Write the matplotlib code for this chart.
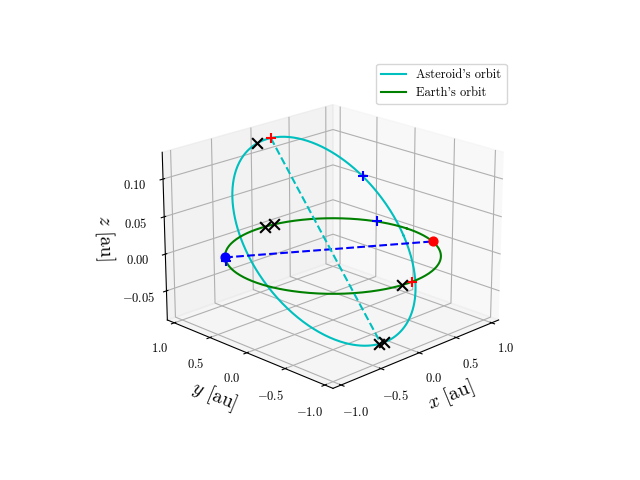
import numpy as np
import matplotlib
matplotlib.use("Agg")
import matplotlib.pyplot as plt

plt.rcParams["font.family"] = "serif"
plt.rcParams["font.serif"] = ["cmr10"]
plt.rcParams["mathtext.fontset"] = "cm"
plt.rcParams["axes.formatter.use_mathtext"] = True

# asteroid orbital elements (estimated)
a_ast, e_ast, inc_deg, node_deg, peri_deg = 0.86, 0.15, 7.0, -8.0, 270.0
# asteroid markers, argument of latitude (deg)
ast_black_x_u = [100, 268, 273]
ast_blue_plus_u = [35]
ast_red_plus_u = [90]
# Earth markers, heliocentric longitude (deg)
earth_black_x = [80, 86, 263]
earth_blue_plus = [145, 20]
earth_red_plus = [270]
earth_pos = 335      # red dot
node_pos = 140       # blue dot

def orbit_xyz(u_deg):
    u = np.radians(u_deg)
    w, O, i = np.radians(peri_deg), np.radians(node_deg), np.radians(inc_deg)
    r = a_ast * (1 - e_ast**2) / (1 + e_ast * np.cos(u - w))
    x = r * (np.cos(O) * np.cos(u) - np.sin(O) * np.sin(u) * np.cos(i))
    y = r * (np.sin(O) * np.cos(u) + np.cos(O) * np.sin(u) * np.cos(i))
    z = r * np.sin(u) * np.sin(i)
    return x, y, z

def earth_xyz(lon_deg):
    t = np.radians(lon_deg)
    return np.cos(t), np.sin(t), np.zeros_like(t)

fig = plt.figure(figsize=(6.4, 4.8), dpi=100)
ax = fig.add_subplot(projection="3d")
ax.view_init(elev=20, azim=-135)

u = np.linspace(0, 360, 400)
ax.plot(*orbit_xyz(u), color="c", label="Asteroid's orbit")
ax.plot(*earth_xyz(np.linspace(0, 360, 400)), color="g", label="Earth's orbit")

# node to Earth
nx, ny, nz = earth_xyz(np.array([node_pos, earth_pos]))
ax.plot(nx, ny, nz, "b--")
ax.scatter(nx[0], ny[0], nz[0], color="b", s=40, depthshade=False)
ax.scatter(nx[1], ny[1], nz[1], color="r", s=40, depthshade=False)
# max/min z line
ex, ey, ez = orbit_xyz(np.array([90, 270]))
ax.plot(ex, ey, ez, "c--")

for xyz, c, m in [(orbit_xyz(np.array(ast_black_x_u)), "k", "x"),
                  (orbit_xyz(np.array(ast_blue_plus_u)), "b", "+"),
                  (orbit_xyz(np.array(ast_red_plus_u)), "r", "+"),
                  (earth_xyz(np.array(earth_black_x)), "k", "x"),
                  (earth_xyz(np.array(earth_blue_plus)), "b", "+"),
                  (earth_xyz(np.array(earth_red_plus)), "r", "+")]:
    ax.scatter(*xyz, color=c, marker=m, s=60, depthshade=False)

ax.set_xlim(-1.1, 1.1)
ax.set_ylim(-1.1, 1.1)
ax.set_zlim(-0.09, 0.135)
ax.set_xticks([-1.0, -0.5, 0.0, 0.5, 1.0])
ax.set_yticks([-1.0, -0.5, 0.0, 0.5, 1.0])
ax.set_zticks([-0.05, 0.0, 0.05, 0.10])
ax.tick_params(labelsize=9)
ax.set_xlabel("$x$ [au]", fontsize=14)
ax.set_ylabel("$y$ [au]", fontsize=14)
ax.set_zlabel("$z$ [au]", fontsize=14)
ax.legend(loc="upper right", fontsize=9)

plt.savefig("out.png")
